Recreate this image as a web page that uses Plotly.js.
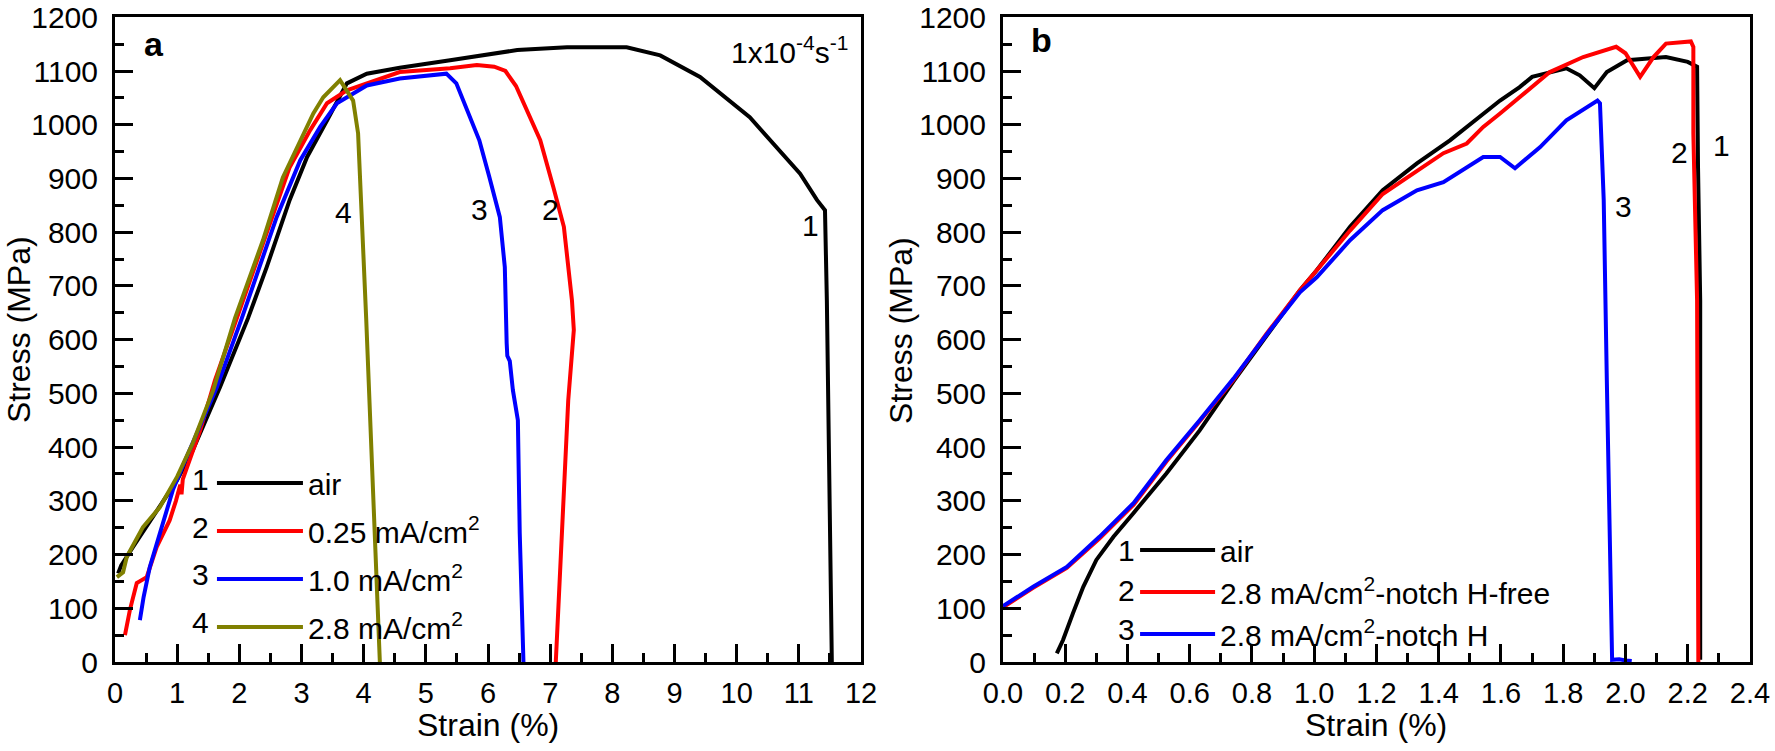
<!DOCTYPE html>
<html>
<head>
<meta charset="utf-8">
<script src="https://cdn.plot.ly/plotly-3.0.1.min.js"></script>
<style>
  body { margin: 0; background: #fff; }
  #chart { width: 1775px; height: 751px; }
</style>
</head>
<body>
<div id="chart"></div>
<script>
// panel a: strain rate 1x10^-4 s^-1, different charging current densities
var aAirX = [0.05, 0.10, 0.29, 0.61, 1.00, 1.25, 1.69, 2.14, 2.44, 2.81, 3.09, 3.41, 3.73, 4.05, 4.58, 5.39, 6.47, 7.27, 8.23, 8.77, 9.41, 10.21, 11.02, 11.29, 11.42, 11.45, 11.50, 11.53, 11.53];
var aAirY = [165, 180, 214, 270, 339, 394, 512, 640, 735, 860, 940, 1008, 1077, 1095, 1106, 1120, 1139, 1144, 1144, 1129, 1089, 1014, 909, 860, 841, 673, 301, 4, 0];

var a025X = [0.16, 0.24, 0.35, 0.51, 0.67, 0.88, 0.98, 1.05, 1.07, 1.09, 1.37, 1.61, 1.96, 2.44, 2.81, 3.14, 3.41, 3.73, 4.58, 5.39, 5.82, 6.10, 6.28, 6.45, 6.62, 6.84, 7.05, 7.22, 7.35, 7.38, 7.29, 7.16, 7.09, 7.09];
var a025Y = [50, 97, 147, 158, 214, 264, 300, 330, 312, 340, 431, 525, 640, 798, 921, 990, 1040, 1064, 1098, 1105, 1111, 1108, 1100, 1072, 1027, 971, 884, 810, 673, 618, 487, 177, 4, 0];

var a10X = [0.40, 0.46, 0.56, 0.72, 0.93, 1.15, 1.64, 2.04, 2.60, 2.98, 3.30, 3.57, 4.05, 4.58, 5.33, 5.49, 5.65, 5.86, 6.02, 6.19, 6.27, 6.28, 6.30, 6.31, 6.35, 6.40, 6.48, 6.51, 6.57, 6.57];
var a10Y = [78, 121, 177, 240, 320, 381, 512, 640, 828, 934, 996, 1040, 1073, 1086, 1095, 1077, 1033, 971, 903, 828, 735, 650, 593, 570, 560, 506, 450, 240, 4, 0];

var a28X = [0.03, 0.13, 0.19, 0.45, 0.72, 1.00, 1.25, 1.58, 1.93, 2.38, 2.70, 3.19, 3.35, 3.62, 3.83, 3.91, 4.04, 4.10, 4.26];
var a28Y = [158, 167, 196, 251, 288, 345, 407, 506, 640, 785, 902, 1021, 1051, 1083, 1045, 984, 640, 463, 0];

// panel b: notched specimens
var bAirX = [0.173, 0.193, 0.225, 0.258, 0.30, 0.355, 0.419, 0.525, 0.632, 0.74, 0.848, 0.954, 1.008, 1.115, 1.22, 1.33, 1.436, 1.543, 1.597, 1.66, 1.70, 1.81, 1.853, 1.90, 1.94, 2.005, 2.13, 2.20, 2.23, 2.233, 2.24, 2.24];
var bAirY = [16, 41, 91, 140, 190, 233, 277, 351, 431, 522, 608, 692, 729, 810, 878, 928, 971, 1021, 1045, 1070, 1089, 1105, 1092, 1068, 1098, 1120, 1126, 1117, 1108, 921, 673, 4];

var bFreeX = [0.0, 0.097, 0.205, 0.31, 0.42, 0.525, 0.632, 0.74, 0.848, 0.954, 1.008, 1.115, 1.22, 1.33, 1.415, 1.49, 1.543, 1.597, 1.66, 1.757, 1.864, 1.97, 2.0, 2.047, 2.09, 2.13, 2.21, 2.218, 2.218, 2.23, 2.234];
var bFreeY = [102, 138, 175, 230, 293, 373, 448, 525, 612, 692, 729, 803, 871, 915, 947, 965, 996, 1021, 1051, 1098, 1126, 1145, 1133, 1089, 1126, 1151, 1155, 1145, 984, 673, 0];

var bHX = [0.0, 0.097, 0.205, 0.31, 0.42, 0.525, 0.632, 0.74, 0.848, 0.954, 1.008, 1.115, 1.22, 1.33, 1.415, 1.49, 1.543, 1.597, 1.645, 1.725, 1.81, 1.91, 1.918, 1.93, 1.934, 1.94, 1.957, 1.98, 2.0, 2.02];
var bHY = [104, 140, 177, 233, 296, 376, 450, 527, 610, 688, 716, 785, 841, 878, 893, 921, 940, 940, 919, 958, 1008, 1045, 1040, 860, 673, 525, 4, 5, 3, 2];

var aNames = ['air', '0.25 mA/cm<sup>2</sup>', '1.0 mA/cm<sup>2</sup>', '2.8 mA/cm<sup>2</sup>'];
var bNames = ['air', '2.8 mA/cm<sup>2</sup>-notch H-free', '2.8 mA/cm<sup>2</sup>-notch H'];

var font = 'Liberation Sans, Arial, sans-serif';

function curve(x, y, name, color, xa, ya, leg, grp) {
  return {
    x: x, y: y, name: name, type: 'scatter', mode: 'lines',
    line: {color: color, width: 4},
    xaxis: xa, yaxis: ya, legend: leg, legendgroup: grp
  };
}

var data = [
  curve(aAirX, aAirY, aNames[0], '#000000', 'x', 'y', 'legend', 'a1'),
  curve(a025X, a025Y, aNames[1], '#ff0000', 'x', 'y', 'legend', 'a2'),
  curve(a10X, a10Y, aNames[2], '#0000ff', 'x', 'y', 'legend', 'a3'),
  curve(a28X, a28Y, aNames[3], '#808000', 'x', 'y', 'legend', 'a4'),
  curve(bAirX, bAirY, bNames[0], '#000000', 'x2', 'y2', 'legend2', 'b1'),
  curve(bFreeX, bFreeY, bNames[1], '#ff0000', 'x2', 'y2', 'legend2', 'b2'),
  curve(bHX, bHY, bNames[2], '#0000ff', 'x2', 'y2', 'legend2', 'b3')
];

function axis(extra) {
  var ax = {
    showgrid: false, zeroline: false,
    showline: true, linecolor: '#000', linewidth: 3, mirror: true,
    ticks: 'inside', ticklen: 18, tickwidth: 3, tickcolor: '#000',
    tickfont: {family: font, size: 30, color: '#000'},
    ticklabelstandoff: 8
  };
  for (var k in extra) ax[k] = extra[k];
  return ax;
}

function minor(d) {
  return {dtick: d, ticks: 'inside', ticklen: 9, tickwidth: 3, tickcolor: '#000'};
}

var xfont = {family: font, size: 29, color: '#000'};

var layout = {
  width: 1775, height: 751,
  margin: {l: 115, r: 25, t: 17, b: 89},
  paper_bgcolor: '#fff', plot_bgcolor: '#fff',
  font: {family: font, color: '#000'},
  showlegend: true,
  xaxis: axis({domain: [0, 0.4563], range: [0, 12], dtick: 1, anchor: 'y', minor: minor(0.5),
    tickfont: xfont, ticklabelstandoff: 3}),
  yaxis: axis({range: [0, 1200.5], dtick: 100, anchor: 'x', minor: minor(50)}),
  xaxis2: axis({domain: [0.5431, 1], range: [0, 2.4], dtick: 0.2, tickformat: '.1f', anchor: 'y2', minor: minor(0.1),
    tickfont: xfont, ticklabelstandoff: 3}),
  yaxis2: axis({range: [0, 1200.5], dtick: 100, anchor: 'x2', minor: minor(50)}),
  legend: {x: 0.0593, y: 0.3178, xanchor: 'left', yanchor: 'top',
    itemwidth: 86, tracegroupgap: 6, bgcolor: 'rgba(0,0,0,0)', borderwidth: 0,
    font: {family: font, size: 30, color: '#000'}},
  legend2: {x: 0.6239, y: 0.214, xanchor: 'left', yanchor: 'top',
    itemwidth: 75, tracegroupgap: 0, bgcolor: 'rgba(0,0,0,0)', borderwidth: 0,
    font: {family: font, size: 30, color: '#000'}},
  annotations: []
};

// axis titles placed in paper coordinates
var titles = [
  ['Strain (%)', 0.2281, -0.097, 0],
  ['Strain (%)', 0.7713, -0.097, 0],
  ['Stress (MPa)', -0.0587, 0.5147, -90],
  ['Stress (MPa)', 0.4807, 0.5147, -90]
];
titles.forEach(function (t) {
  layout.annotations.push({
    text: t[0], x: t[1], y: t[2], xref: 'paper', yref: 'paper',
    xanchor: 'center', yanchor: 'middle', textangle: t[3], showarrow: false,
    font: {family: font, size: 32, color: '#000'}
  });
});

// text labels: [text, x, y, xref, yref, bold, xanchor]
var labels = [
  ['a', 0.63, 1150, 'x', 'y', true, 'center'],
  ['1x10<sup>-4</sup>s<sup>-1</sup>', 11.82, 1139, 'x', 'y', false, 'right'],
  ['4', 3.68, 837, 'x', 'y', false, 'center'],
  ['3', 5.87, 843, 'x', 'y', false, 'center'],
  ['2', 7.0, 843, 'x', 'y', false, 'center'],
  ['1', 11.18, 813, 'x', 'y', false, 'center'],
  ['1', 1.37, 340, 'x', 'y', false, 'center'],
  ['2', 1.37, 251, 'x', 'y', false, 'center'],
  ['3', 1.37, 162, 'x', 'y', false, 'center'],
  ['4', 1.37, 74, 'x', 'y', false, 'center'],
  ['b', 0.125, 1157, 'x2', 'y2', true, 'center'],
  ['2', 2.175, 949, 'x2', 'y2', false, 'center'],
  ['1', 2.31, 962, 'x2', 'y2', false, 'center'],
  ['3', 1.992, 847, 'x2', 'y2', false, 'center'],
  ['1', 0.398, 208, 'x2', 'y2', false, 'center'],
  ['2', 0.398, 134, 'x2', 'y2', false, 'center'],
  ['3', 0.398, 60, 'x2', 'y2', false, 'center']
];

labels.forEach(function (l) {
  layout.annotations.push({
    text: l[5] ? '<b>' + l[0] + '</b>' : l[0],
    x: l[1], y: l[2], xref: l[3], yref: l[4],
    xanchor: l[6], yanchor: 'middle', showarrow: false,
    font: {family: font, size: l[5] ? 34 : 30, color: '#000'}
  });
});

Plotly.newPlot('chart', data, layout, {staticPlot: true});
</script>
</body>
</html>
